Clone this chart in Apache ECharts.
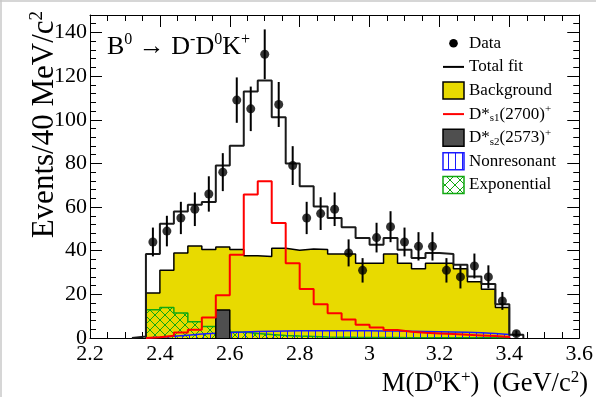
<!DOCTYPE html>
<html>
<head>
<meta charset="utf-8">
<script src="https://cdn.jsdelivr.net/npm/echarts@6/dist/echarts.min.js"></script>
<style>
  html, body { margin: 0; padding: 0; background: #fff; }
  #chart { width: 596px; height: 397px; }
</style>
</head>
<body>
<div id="chart"></div>
<script>
// M(D0K+) bins, 40 MeV wide, given by bin centre (GeV/c^2)
const binCenters = [2.34, 2.38, 2.42, 2.46, 2.50, 2.54, 2.58, 2.62, 2.66, 2.70,
                    2.74, 2.78, 2.82, 2.86, 2.90, 2.94, 2.98, 3.02, 3.06, 3.10,
                    3.14, 3.18, 3.22, 3.26, 3.30, 3.34, 3.38, 3.42];
const binWidth = 0.04;

// Measured events per bin and their uncertainties
const dataCounts = [null, 44, 49, 55, 59, 66, 76, 109, 105, 130,
                    107, 79, 55, 57, 59, 39, 31, 46, 51, 44,
                    42, 42, 31, 28, 33, 28, 17, 2];
const dataErrors = [null, 6.6, 7.0, 7.4, 7.7, 8.1, 8.7, 10.4, 10.2, 11.4,
                    10.3, 8.9, 7.4, 7.5, 7.7, 6.2, 5.6, 6.8, 7.1, 6.6,
                    6.5, 6.5, 5.6, 5.3, 5.7, 5.3, 4.1, 1.4];

// Fit result and its components
const totalFit = [0.7, 38.5, 52.3, 58.0, 61.0, 62.3, 79.0, 88.1, 113.0, 118.0,
                  101.2, 80.0, 69.5, 60.3, 55.0, 50.8, 45.8, 42.7, 45.8, 40.4,
                  36.6, 38.9, 38.5, 33.6, 28.2, 24.7, 15.5, 1.5];
const background = [0, 20.6, 31.0, 38.9, 42.2, 40.6, 41.7, 40.6, 37.7, 37.4,
                    41.1, 40.2, 40.8, 40.5, 38.5, 38.5, 34.3, 34.3, 38.5, 34.3,
                    31.7, 34.3, 34.3, 31.7, 25.8, 22.3, 14.0, 0];
const ds1_2700 = [0, 0.3, 1.0, 2.5, 3.8, 9.4, 19.6, 38.2, 65.8, 71.8,
                  52.7, 34.2, 22.5, 15.5, 11.3, 8.5, 6.1, 4.8, 3.7, 2.9,
                  2.4, 2.1, 1.8, 1.5, 1.2, 0.9, 0.5, 0];
const ds2_2573 = [0, 0, 0, 0, 0, 0, 12.8, 0, 0, 0,
                  0, 0, 0, 0, 0, 0, 0, 0, 0, 0,
                  0, 0, 0, 0, 0, 0, 0, 0];
const nonresonant = [0, 0.3, 0.8, 1.3, 1.8, 2.2, 2.5, 2.7, 3.0, 3.1,
                     3.2, 3.3, 3.3, 3.3, 3.3, 3.3, 3.3, 3.2, 3.2, 3.1,
                     3.0, 2.9, 2.8, 2.6, 2.4, 2.1, 1.6, 0];
const exponential = [0, 13.0, 14.0, 11.5, 7.5, 5.3, 3.8, 2.8, 2.1, 1.6,
                     1.2, 0.9, 0.7, 0.5, 0.4, 0.3, 0.25, 0.2, 0.2, 0.15,
                     0.1, 0.1, 0.1, 0.1, 0.1, 0.1, 0.1, 0];

// Axis ticks
const xMin = 2.2, xMax = 3.6, xStep = 0.2;
const yMax = 148;
const yTickValues = [0, 20, 40, 60, 80, 100, 120, 140];
const yMinorStep = 4;

const FONT = '"Liberation Serif", "Times New Roman", serif';
const YELLOW = '#e8da00';
const GREY = '#4f4f4f';
const GREEN = '#10a810';
const BLUE = '#1a1aff';

// Hatch fills
function hatch(kind) {
  const c = document.createElement('canvas');
  const ctx = c.getContext('2d');
  if (kind === 'cross') {
    c.width = 10; c.height = 10;
    ctx.strokeStyle = GREEN; ctx.lineWidth = 1;
    ctx.beginPath();
    ctx.moveTo(0, 0); ctx.lineTo(10, 10);
    ctx.moveTo(10, 0); ctx.lineTo(0, 10);
    ctx.stroke();
  } else {
    c.width = 7; c.height = 4;
    ctx.strokeStyle = BLUE; ctx.lineWidth = 1;
    ctx.beginPath();
    ctx.moveTo(0.5, 0); ctx.lineTo(0.5, 4);
    ctx.stroke();
  }
  return { image: c, repeat: 'repeat' };
}
const crossFill = hatch('cross');
const vertFill = hatch('vert');

// Outline of a histogram (trailing/leading empty bins dropped)
function histPath(values) {
  let first = values.findIndex(v => v > 0);
  let last = values.length - 1;
  while (last >= 0 && !(values[last] > 0)) last--;
  const pts = [];
  if (first < 0) return pts;
  pts.push([binCenters[first] - binWidth / 2, 0]);
  for (let i = first; i <= last; i++) {
    const lo = binCenters[i] - binWidth / 2, hi = binCenters[i] + binWidth / 2;
    pts.push([lo, values[i]], [hi, values[i]]);
  }
  pts.push([binCenters[last] + binWidth / 2, 0]);
  return pts;
}

function histSeries(name, values, line, area, z) {
  const s = {
    name, type: 'line', data: histPath(values), symbol: 'none', showSymbol: false,
    lineStyle: line, z: z, animation: false, silent: true, clip: true
  };
  if (area) s.areaStyle = { color: area, opacity: 1 };
  return s;
}

const points = [], bars = [];
binCenters.forEach((c, i) => {
  if (dataCounts[i] == null) return;
  points.push([c, dataCounts[i]]);
  bars.push([c, dataCounts[i] - dataErrors[i], dataCounts[i] + dataErrors[i]]);
});

const yMinorValues = [];
for (let v = 0; v <= yMax; v += yMinorStep) yMinorValues.push(v);

const lineAxis = { show: true, onZero: false, lineStyle: { color: '#000', width: 1 } };

function xAxisDef(pos, labels) {
  return {
    type: 'value', position: pos, min: xMin, max: xMax, interval: xStep,
    axisLine: lineAxis,
    axisTick: { show: true, inside: true, length: 12, lineStyle: { color: '#000', width: 1 } },
    minorTick: { show: true, splitNumber: 4, length: 6, lineStyle: { color: '#000', width: 1 } },
    axisLabel: { show: labels, color: '#000', fontFamily: FONT, fontSize: 22, margin: 5 },
    splitLine: { show: false }, minorSplitLine: { show: false }
  };
}
function yAxisDef(pos, major, labels) {
  return {
    type: 'value', position: pos, min: 0, max: yMax,
    axisLine: major ? lineAxis : { show: false },
    axisTick: {
      show: true, inside: true, length: major ? 12 : 6,
      customValues: major ? yTickValues : yMinorValues,
      lineStyle: { color: '#000', width: 1 }
    },
    axisLabel: {
      show: labels, customValues: yTickValues, color: '#000',
      fontFamily: FONT, fontSize: 22, margin: 3
    },
    splitLine: { show: false }
  };
}

// Legend rows
const legendRows = [
  { text: '{n|Data}', kind: 'marker' },
  { text: '{n|Total fit}', kind: 'line', color: '#000' },
  { text: '{n|Background}', kind: 'box', fill: YELLOW, stroke: '#000' },
  { text: '{n|D*}{sub|s1}{n|(2700)}{sup|+}', kind: 'line', color: '#ff0000' },
  { text: '{n|D*}{sub|s2}{n|(2573)}{sup|+}', kind: 'box', fill: GREY, stroke: '#000' },
  { text: '{n|Nonresonant}', kind: 'box', fill: vertFill, stroke: BLUE },
  { text: '{n|Exponential}', kind: 'box', fill: crossFill, stroke: GREEN }
];
const richSmall = {
  n: { fontFamily: FONT, fontSize: 17, lineHeight: 20, fill: '#000' },
  sub: { fontFamily: FONT, fontSize: 11, lineHeight: 11, verticalAlign: 'bottom', fill: '#000' },
  sup: { fontFamily: FONT, fontSize: 11, lineHeight: 11, verticalAlign: 'top', fill: '#000' }
};
const legendGraphics = [];
const lgX = 443, lgW = 21, lgTextX = 469, lgY0 = 43.3, lgDy = 23.6;
legendRows.forEach((r, i) => {
  const cy = lgY0 + i * lgDy;
  if (r.kind === 'marker') {
    legendGraphics.push({ type: 'circle', shape: { cx: lgX + lgW / 2, cy, r: 4.3 }, style: { fill: '#000' } });
  } else if (r.kind === 'line') {
    legendGraphics.push({ type: 'line', shape: { x1: lgX, y1: cy, x2: lgX + lgW, y2: cy }, style: { stroke: r.color, lineWidth: 2 } });
  } else {
    legendGraphics.push({ type: 'rect', shape: { x: lgX, y: cy - 8.5, width: lgW, height: 17 }, style: { fill: r.fill, stroke: r.stroke, lineWidth: 1.5 } });
  }
  legendGraphics.push({
    type: 'text', x: lgTextX, y: cy,
    style: { text: r.text, rich: richSmall, textAlign: 'left', textVerticalAlign: 'middle' }
  });
});

const chart = echarts.init(document.getElementById('chart'), null, { renderer: 'canvas' });
chart.setOption({
  animation: false,
  backgroundColor: '#fff',
  grid: { left: 90, right: 8, top: 15, bottom: 59 },
  xAxis: [xAxisDef('bottom', true), xAxisDef('top', false)],
  yAxis: [yAxisDef('left', true, true), yAxisDef('left', false, false),
          yAxisDef('right', true, false), yAxisDef('right', false, false)],
  series: [
    histSeries('Background', background, { color: '#000', width: 1.5 }, YELLOW, 2),
    histSeries('Exponential', exponential, { color: GREEN, width: 1.5 }, crossFill, 3),
    histSeries('Nonresonant', nonresonant, { color: BLUE, width: 1.5 }, vertFill, 4),
    histSeries('Ds2(2573)', ds2_2573, { color: '#000', width: 1.5 }, GREY, 5),
    histSeries('Ds1(2700)', ds1_2700, { color: '#ff0000', width: 2 }, null, 6),
    histSeries('Total fit', totalFit, { color: '#1a1a1a', width: 2 }, null, 7),
    {
      name: 'Data errors', type: 'custom', data: bars, z: 8, silent: true,
      renderItem(params, api) {
        const a = api.coord([api.value(0), api.value(1)]);
        const b = api.coord([api.value(0), api.value(2)]);
        return { type: 'line', shape: { x1: a[0], y1: a[1], x2: b[0], y2: b[1] },
                 style: { stroke: '#000', lineWidth: 2 } };
      }
    },
    {
      name: 'Data', type: 'scatter', data: points, symbol: 'circle', symbolSize: 9,
      itemStyle: { color: '#000' }, z: 9, silent: true
    }
  ],
  graphic: [
    { type: 'line', shape: { x1: 0, y1: 1, x2: 596, y2: 1 }, style: { stroke: '#c8c8c8', lineWidth: 1.5 } },
    { type: 'line', shape: { x1: 1, y1: 0, x2: 1, y2: 397 }, style: { stroke: '#c8c8c8', lineWidth: 1.5 } },
    {
      type: 'text', x: 107, y: 47,
      style: {
        text: '{n|B}{sup|0}{n| \u2192 D}{sup|-}{n|D}{sup|0}{n|K}{sup|+}',
        textAlign: 'left', textVerticalAlign: 'middle',
        rich: {
          n: { fontFamily: FONT, fontSize: 26, lineHeight: 30, fill: '#000' },
          sup: { fontFamily: FONT, fontSize: 16, lineHeight: 16, verticalAlign: 'top', fill: '#000' }
        }
      }
    },
    {
      type: 'text', x: 45, y: 11, rotation: Math.PI / 2,
      style: {
        text: '{n|Events/40 MeV/c}{sup|2}',
        textAlign: 'right', textVerticalAlign: 'middle',
        rich: {
          n: { fontFamily: FONT, fontSize: 31, lineHeight: 34, fill: '#000' },
          sup: { fontFamily: FONT, fontSize: 19, lineHeight: 18, verticalAlign: 'top', fill: '#000' }
        }
      }
    },
    {
      type: 'text', x: 588, y: 384,
      style: {
        text: '{n|M(D}{sup|0}{n|K}{sup|+}{n|)  (GeV/c}{sup|2}{n|)}',
        textAlign: 'right', textVerticalAlign: 'middle',
        rich: {
          n: { fontFamily: FONT, fontSize: 26.5, lineHeight: 30, fill: '#000' },
          sup: { fontFamily: FONT, fontSize: 17, lineHeight: 16, verticalAlign: 'top', fill: '#000' }
        }
      }
    }
  ].concat(legendGraphics)
});
</script>
</body>
</html>
